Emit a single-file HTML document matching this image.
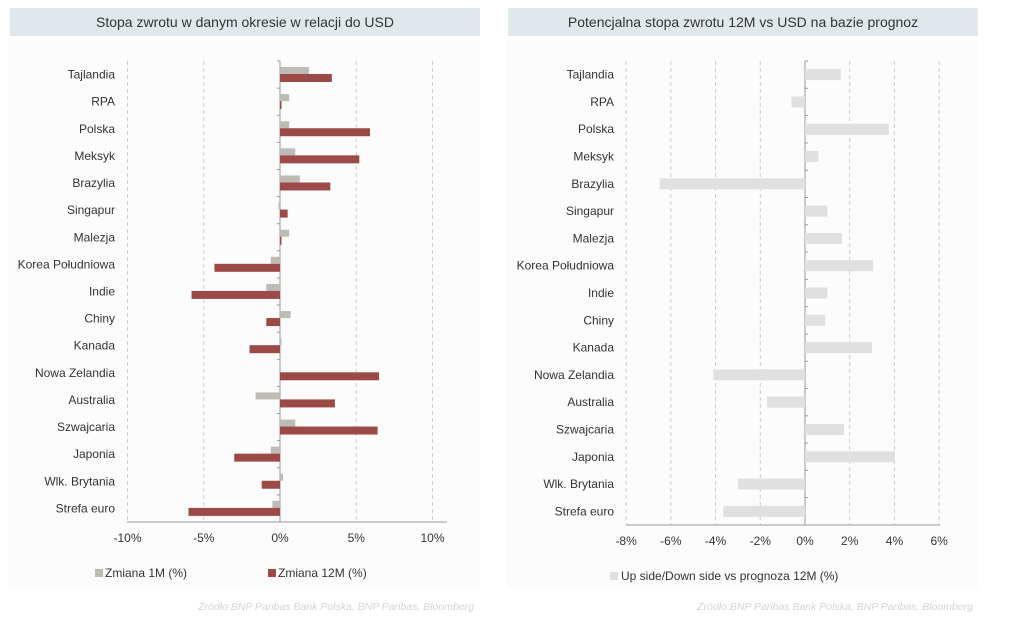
<!DOCTYPE html>
<html><head><meta charset="utf-8"><style>
body{margin:0;background:#fff;}
svg text{font-family:"Liberation Sans",sans-serif;}
</style></head><body>
<svg width="1024" height="618" viewBox="0 0 1024 618" xmlns="http://www.w3.org/2000/svg">
<rect width="1024" height="618" fill="#fff"/>
<rect x="8" y="40" width="472" height="550" fill="#fcfcfc"/>
<rect x="506" y="40" width="472" height="550" fill="#fcfcfc"/>
<rect x="10" y="8" width="470" height="28" fill="#e1e8ec"/>
<rect x="508" y="8" width="470" height="28" fill="#e1e8ec"/>
<text x="245" y="27" font-size="14" text-anchor="middle" fill="#333">Stopa zwrotu w danym okresie w relacji do USD</text>
<text x="743" y="27" font-size="14" text-anchor="middle" fill="#333">Potencjalna stopa zwrotu 12M vs USD na bazie prognoz</text>
<g id="L"></g><g id="R"></g>
<text x="474" y="610" font-size="10.5" font-style="italic" fill="#d4d4d4" text-anchor="end">Źródło:BNP Paribas Bank Polska, BNP Paribas, Bloomberg</text>
<text x="973" y="610" font-size="10.5" font-style="italic" fill="#d4d4d4" text-anchor="end">Źródło:BNP Paribas Bank Polska, BNP Paribas, Bloomberg</text>
</svg>
<script>
(function(){
const ns="http://www.w3.org/2000/svg";
function el(p,t,a,txt){const e=document.createElementNS(ns,t);for(const k in a)e.setAttribute(k,a[k]);if(txt!==undefined)e.textContent=txt;p.appendChild(e);return e;}
const cats=["Tajlandia","RPA","Polska","Meksyk","Brazylia","Singapur","Malezja","Korea Południowa","Indie","Chiny","Kanada","Nowa Zelandia","Australia","Szwajcaria","Japonia","Wlk. Brytania","Strefa euro"];
const L=document.getElementById("L");
const g1=[1.9,0.6,0.6,1.0,1.3,-0.1,0.6,-0.6,-0.9,0.7,0.1,-0.05,-1.6,1.0,-0.6,0.2,-0.5];
const r1=[3.4,0.1,5.9,5.2,3.3,0.5,0.1,-4.3,-5.8,-0.9,-2.0,6.5,3.6,6.4,-3.0,-1.2,-6.0];
let x0=280,s=15.25,ty=61,by=522,bh=(by-ty)/17;
[-10,-5,5,10].forEach(v=>el(L,"line",{x1:x0+v*s,x2:x0+v*s,y1:ty,y2:by,stroke:"#ccc","stroke-dasharray":"4,3"}));
el(L,"line",{x1:x0,x2:x0,y1:ty,y2:by,stroke:"#999"});
el(L,"line",{x1:127,x2:447,y1:by,y2:by,stroke:"#999"});
cats.forEach((c,i)=>{const y=ty+i*bh;
el(L,"line",{x1:x0-3,x2:x0,y1:y,y2:y,stroke:"#999"});
el(L,"text",{x:115,y:y+bh/2+4,"font-size":12,"text-anchor":"end",fill:"#333"},c);
let a=g1[i];el(L,"rect",{x:a<0?x0+a*s:x0,y:y+6,width:Math.abs(a*s),height:7,fill:"#bdbbb4"});
a=r1[i];el(L,"rect",{x:a<0?x0+a*s:x0,y:y+13,width:Math.abs(a*s),height:8,fill:"#9b4a48"});});
[-10,-5,0,5,10].forEach(v=>el(L,"text",{x:x0+v*s,y:542,"font-size":12,"text-anchor":"middle",fill:"#333"},v+"%"));
el(L,"rect",{x:95,y:569,width:8,height:8,fill:"#bdbbb4"});
el(L,"text",{x:105,y:577,"font-size":12,fill:"#333"},"Zmiana 1M (%)");
el(L,"rect",{x:268,y:569,width:8,height:8,fill:"#9b4a48"});
el(L,"text",{x:278,y:577,"font-size":12,fill:"#333"},"Zmiana 12M (%)");
const R=document.getElementById("R");
const v2=[1.6,-0.6,3.75,0.6,-6.5,1.0,1.65,3.05,1.0,0.9,3.0,-4.1,-1.7,1.75,4.0,-3.0,-3.65];
x0=805;s=22.36;ty=61;by=525;bh=(by-ty)/17;
[-8,-6,-4,-2,2,4,6].forEach(v=>el(R,"line",{x1:x0+v*s,x2:x0+v*s,y1:ty,y2:by,stroke:"#ccc","stroke-dasharray":"4,3"}));
el(R,"line",{x1:x0,x2:x0,y1:ty,y2:by,stroke:"#999"});
el(R,"line",{x1:626,x2:940,y1:by,y2:by,stroke:"#999"});
cats.forEach((c,i)=>{const y=ty+i*bh;
el(R,"line",{x1:x0,x2:x0+3,y1:y,y2:y,stroke:"#999"});
el(R,"text",{x:614,y:y+bh/2+4,"font-size":12,"text-anchor":"end",fill:"#333"},c);
const a=v2[i];el(R,"rect",{x:a<0?x0+a*s:x0,y:y+bh/2-5.5,width:Math.abs(a*s),height:11,fill:"#e0e0e0"});});
[-8,-6,-4,-2,0,2,4,6].forEach(v=>el(R,"text",{x:x0+v*s,y:545,"font-size":12,"text-anchor":"middle",fill:"#333"},v+"%"));
el(R,"rect",{x:610,y:572,width:8,height:8,fill:"#e0e0e0"});
el(R,"text",{x:621,y:580,"font-size":12,fill:"#333"},"Up side/Down side vs prognoza 12M (%)");
})();
</script>
</body></html>
